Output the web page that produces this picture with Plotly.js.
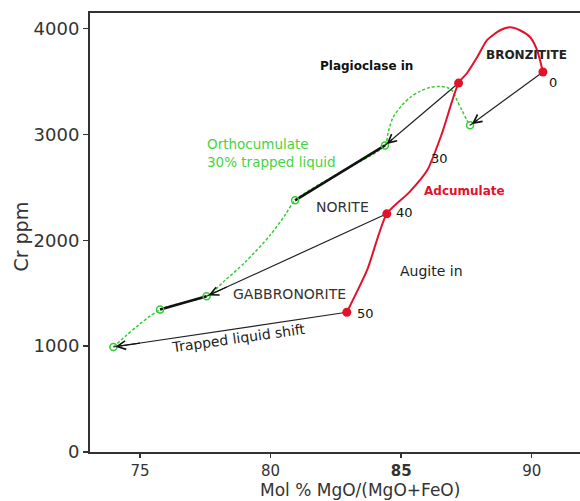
<!DOCTYPE html>
<html>
<head>
<meta charset="utf-8">
<script src="https://cdn.plot.ly/plotly-3.0.1.min.js"></script>
<style>html,body{margin:0;padding:0;background:#fff;}#chart{width:580px;height:501px;}</style>
</head>
<body>
<div id="chart"></div>
<script>
// Adcumulate (red) path, from 50 up through 40, 30, over the peak to 0
const adcX = [82.92, 83.70, 84.45, 85.30, 86.00, 86.55, 87.20, 87.52, 87.91, 88.29, 88.79, 89.17, 89.55, 89.94, 90.21, 90.43];
const adcY = [1320, 1720, 2250, 2450, 2661, 3000, 3485, 3578, 3729, 3890, 3984, 4012, 3984, 3918, 3795, 3590];

// Orthocumulate (green dashed) path
const orthoX = [73.98, 75.77, 77.55, 78.26, 79.02, 79.98, 80.55, 80.94, 82.66, 84.38, 84.50, 84.69, 85.03, 85.34, 85.72, 86.11, 86.49, 86.76, 86.95, 87.06, 87.14, 87.33, 87.52, 87.64];
const orthoY = [992, 1345, 1471, 1622, 1792, 2047, 2236, 2378, 2641, 2896, 3018, 3160, 3274, 3349, 3406, 3444, 3453, 3444, 3416, 3369, 3321, 3227, 3133, 3086];

// Red (adcumulate) points: 0, 30, 40, 50 % trapped liquid
const redX = [90.43, 87.20, 84.45, 82.92];
const redY = [3590, 3485, 2250, 1320];
const redLabels = ['0', '30', '40', '50'];

// Green (orthocumulate) points
const greenX = [87.64, 84.38, 80.94, 77.55, 75.77, 73.98];
const greenY = [3086, 2896, 2378, 1471, 1345, 992];

// Trapped liquid shift tie lines: red point index -> green point index
const tieFrom = [0, 1, 2, 3];
const tieTo = [0, 1, 3, 5];
// Bold segments between green points
const boldFrom = [1, 3];
const boldTo = [2, 4];

const FONT = 'DejaVu Sans, Verdana, sans-serif';
const RED = '#e3122b';
const GREEN = '#35cc35';
const DARK = '#333333';

function segs(fromX, fromY, toX, toY, a, b) {
  const xs = [], ys = [];
  for (let i = 0; i < a.length; i++) {
    xs.push(fromX[a[i]], toX[b[i]], null);
    ys.push(fromY[a[i]], toY[b[i]], null);
  }
  return {xs, ys};
}
const tie = segs(redX, redY, greenX, greenY, tieFrom, tieTo);
const bold = segs(greenX, greenY, greenX, greenY, boldFrom, boldTo);

const traces = [
  {x: orthoX, y: orthoY, mode: 'lines', line: {color: GREEN, width: 1.5, dash: '3px,2px', shape: 'spline', smoothing: 0.8}, hoverinfo: 'skip'},
  {x: tie.xs, y: tie.ys, mode: 'lines', line: {color: '#222', width: 1.2}, hoverinfo: 'skip'},
  {x: bold.xs, y: bold.ys, mode: 'lines', line: {color: '#111', width: 2.6}, hoverinfo: 'skip'},
  {x: adcX, y: adcY, mode: 'lines', line: {color: RED, width: 2, shape: 'spline', smoothing: 0.6}, hoverinfo: 'skip'},
  {x: redX, y: redY, mode: 'markers', marker: {color: RED, size: 9, symbol: 'circle'}},
  {x: greenX, y: greenY, mode: 'markers', marker: {color: GREEN, size: 7, symbol: 'circle-open', line: {width: 1.5, color: GREEN}}}
];

const annotations = [];
// arrowheads at green ends of tie lines
for (let i = 0; i < tieFrom.length; i++) {
  const fx = redX[tieFrom[i]], fy = redY[tieFrom[i]];
  const tx = greenX[tieTo[i]], ty = greenY[tieTo[i]];
  annotations.push({x: tx, y: ty, ax: tx + (fx - tx) * 0.12, ay: ty + (fy - ty) * 0.12,
    xref: 'x', yref: 'y', axref: 'x', ayref: 'y', text: '', showarrow: true,
    arrowhead: 5, arrowsize: 1.4, arrowwidth: 1.2, arrowcolor: '#111', standoff: 2});
}
// numeric labels next to red points
const numOffX = [0.38, -0.72, 0.66, 0.70];
const numOffY = [-97, -710, 14, -9];
for (let i = 0; i < redX.length; i++) {
  annotations.push({x: redX[i] + numOffX[i], y: redY[i] + numOffY[i], xref: 'x', yref: 'y', text: redLabels[i], showarrow: false,
    font: {family: FONT, size: 13, color: '#111'}});
}
const labels = [
  {x: 83.69, y: 3644, text: '<b>Plagioclase in</b>', size: 12, color: '#111'},
  {x: 89.82, y: 3748, text: '<b>BRONZITITE</b>', size: 12, color: '#222'},
  {x: 87.41, y: 2462, text: '<b>Adcumulate</b>', size: 12, color: RED},
  {x: 82.77, y: 2312, text: 'NORITE', size: 14, color: DARK},
  {x: 80.74, y: 1488, text: 'GABBRONORITE', size: 14, color: DARK},
  {x: 86.15, y: 1707, text: 'Augite in', size: 14, color: '#222'}
];
labels.forEach(l => annotations.push({x: l.x, y: l.y, xref: 'x', yref: 'y', text: l.text, showarrow: false,
  font: {family: FONT, size: l.size, color: l.color}}));
annotations.push({x: 77.49, y: 2827, xref: 'x', yref: 'y', xanchor: 'left', align: 'left', showarrow: false,
  text: 'Orthocumulate<br>30% trapped liquid', font: {family: FONT, size: 13.5, color: '#44d444'}});
annotations.push({x: 78.79, y: 1074, xref: 'x', yref: 'y', showarrow: false, textangle: -8,
  text: 'Trapped liquid shift', font: {family: FONT, size: 14, color: '#222'}});
// axis titles
annotations.push({x: 0.551, y: -0.1116, xref: 'paper', yref: 'paper', showarrow: false, yanchor: 'bottom',
  text: 'Mol % MgO/(MgO+FeO)', font: {family: FONT, size: 17, color: DARK}, borderpad: 0});
annotations.push({x: -0.168, y: 0.49, xref: 'paper', yref: 'paper', showarrow: false, textangle: -90,
  text: 'Cr ppm', font: {family: FONT, size: 19, color: DARK}});

const layout = {
  width: 580, height: 501,
  margin: {l: 90, r: 0, t: 13, b: 49},
  paper_bgcolor: '#fff', plot_bgcolor: '#fff',
  showlegend: false,
  font: {family: FONT, color: DARK},
  xaxis: {range: [73.085, 91.85], tickvals: [75, 80, 85, 90], ticktext: ['75', '80', '<b>85</b>', '90'],
    ticks: 'outside', ticklen: 4, tickwidth: 1.5, tickcolor: DARK, showline: true, linewidth: 2, linecolor: DARK,
    mirror: true, showgrid: false, zeroline: false, tickfont: {family: FONT, size: 15, color: DARK}},
  yaxis: {range: [0, 4147], tickvals: [0, 1000, 2000, 3000, 4000],
    ticks: 'outside', ticklen: 5, tickwidth: 1.5, tickcolor: DARK, showline: true, linewidth: 2, linecolor: DARK,
    mirror: false, showgrid: false, zeroline: false, tickfont: {family: FONT, size: 18, color: DARK}},
  annotations: annotations
};

Plotly.newPlot('chart', traces, layout, {displayModeBar: false, staticPlot: true});
</script>
</body>
</html>
